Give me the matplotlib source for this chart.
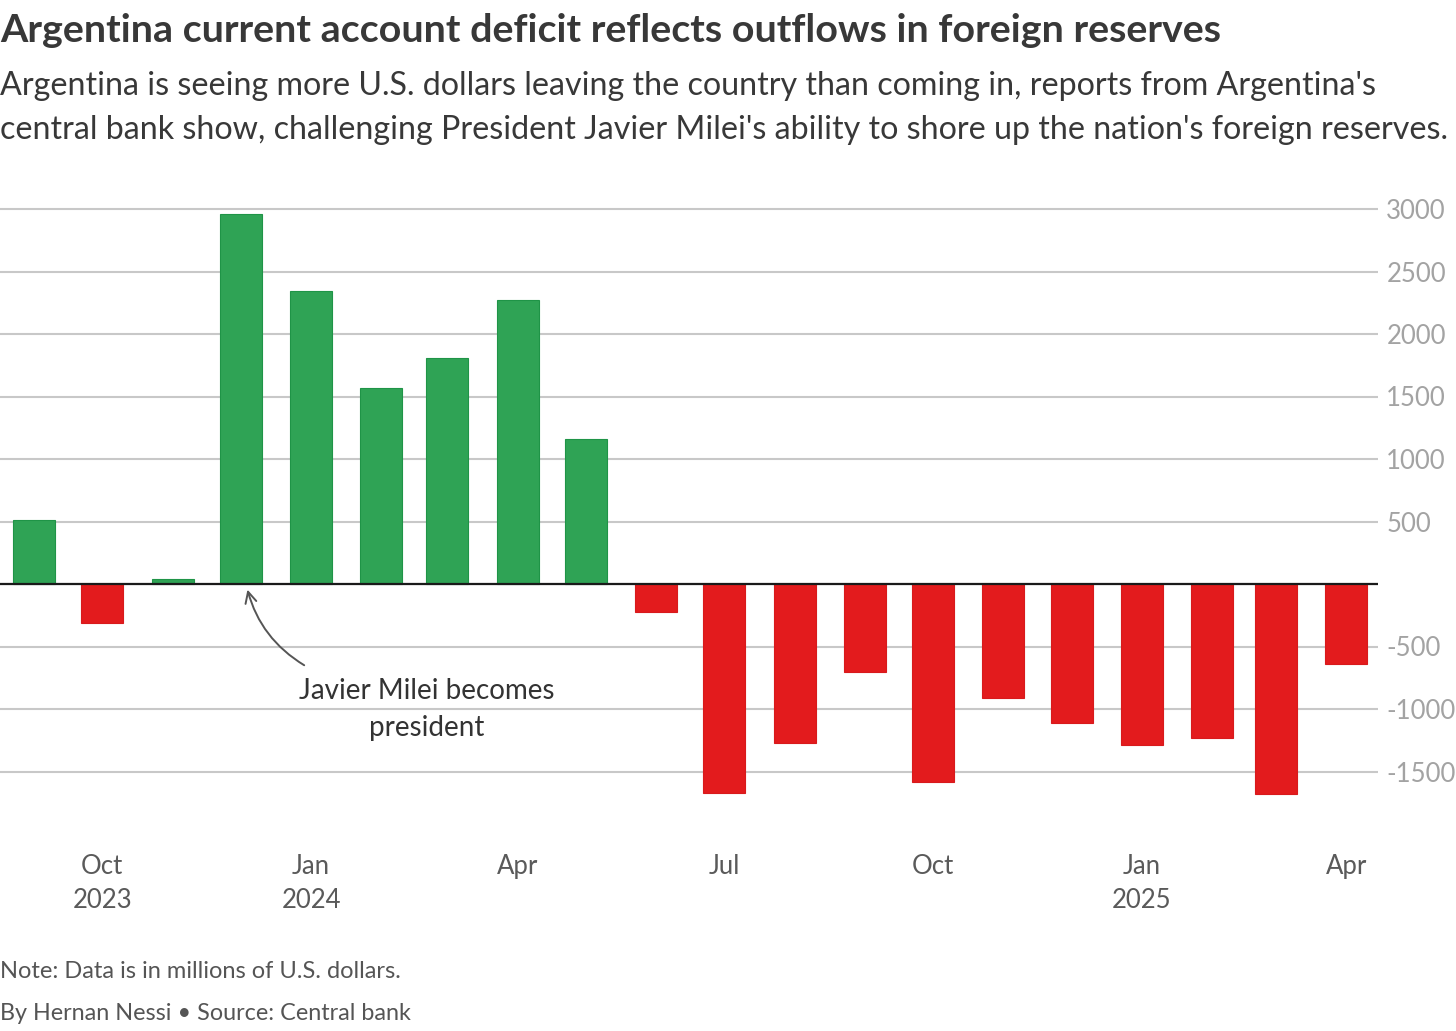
import pandas as pd
import matplotlib.pyplot as plt

# dados mensais (milhões de US$)
meses = ["2023-09", "2023-10", "2023-11", "2023-12", "2024-01", "2024-02", "2024-03",
         "2024-04", "2024-05", "2024-06", "2024-07", "2024-08", "2024-09", "2024-10",
         "2024-11", "2024-12", "2025-01", "2025-02", "2025-03", "2025-04"]
valores = [510, -310, 40, 2960, 2345, 1570, 1810, 2275, 1160, -225, -1670, -1270,
           -700, -1585, -910, -1115, -1290, -1235, -1680, -640]

ticks_datas = ["2023-10", "2024-01", "2024-04", "2024-07", "2024-10", "2025-01", "2025-04"]
ticks_rotulos = ["Oct\n2023", "Jan\n2024", "Apr", "Jul", "Oct", "Jan\n2025", "Apr"]
y_ticks = [-1500, -1000, -500, 0, 500, 1000, 1500, 2000, 2500, 3000]

titulo = "Argentina current account deficit reflects outflows in foreign reserves"
subtitulo = ("Argentina is seeing more U.S. dollars leaving the country than coming in, reports from Argentina's\n"
             "central bank show, challenging President Javier Milei's ability to shore up the nation's foreign reserves.")

plt.rcParams['font.family'] = ['Lato', 'DejaVu Sans']

fig = plt.figure(figsize=(14.56, 10.31), dpi=100)
ax = fig.add_axes([0, 1 - 802.75 / 1031, 1378 / 1456, 600 / 1031])

datas = pd.to_datetime(meses)
cores = ['#2fa355' if v >= 0 else '#e31b1d' for v in valores]
bordas = ['#1f9447' if v >= 0 else '#d81a1c' for v in valores]
ax.bar(datas, valores, width=18.5, color=cores, edgecolor=bordas, linewidth=0.8, zorder=3)

ax.set_ylim(-1750, 3050)
ax.set_xlim(pd.Timestamp("2023-08-17"), pd.Timestamp("2025-04-15"))

ax.set_yticks(y_ticks)
ax.set_yticklabels([str(t) if t != 0 else "" for t in y_ticks])
ax.yaxis.tick_right()
ax.tick_params(axis='y', length=0, pad=6, labelsize=18.5, labelcolor='#a3a3a3')
ax.grid(axis='y', color='#c8c8c8', linewidth=1.5, zorder=0)
ax.axhline(0, color='#1a1a1a', linewidth=1.6, zorder=4)

ax.set_xticks(pd.to_datetime(ticks_datas))
ax.set_xticklabels(ticks_rotulos, linespacing=1.45)
ax.tick_params(axis='x', length=0, pad=37, labelsize=18.5, labelcolor='#5a5a5a')

for s in ax.spines.values():
    s.set_visible(False)

# anotação da posse do Milei
ax.text(pd.Timestamp("2024-02-21"), -1004, "Javier Milei becomes\npresident", ha='center', va='center',
        fontsize=20, color='#333333', linespacing=1.5, zorder=5)
ax.annotate("", xy=(pd.Timestamp("2023-12-04"), -45), xytext=(pd.Timestamp("2023-12-29"), -650),
            arrowprops=dict(arrowstyle='->', color='#555555', lw=1.4,
                            connectionstyle='arc3,rad=-0.2', shrinkA=0, shrinkB=0,
                            mutation_scale=20),
            zorder=5)

fig.text(0.0, 1 - 31 / 1031, titulo, fontsize=28.4, fontweight='bold', color='#383838', va='center')
fig.text(0.0, 1 - 108 / 1031, subtitulo, fontsize=23.2, color='#383838',
         va='center', linespacing=1.6)
fig.text(0.0, 1 - 971 / 1031, "Note: Data is in millions of U.S. dollars.", fontsize=17,
         color='#555555', va='center')
fig.text(0.0, 1 - 1014 / 1031, "By Hernan Nessi \u2022 Source: Central bank", fontsize=16.8,
         color='#555555', va='center')

fig.savefig("out.png", dpi=100)
